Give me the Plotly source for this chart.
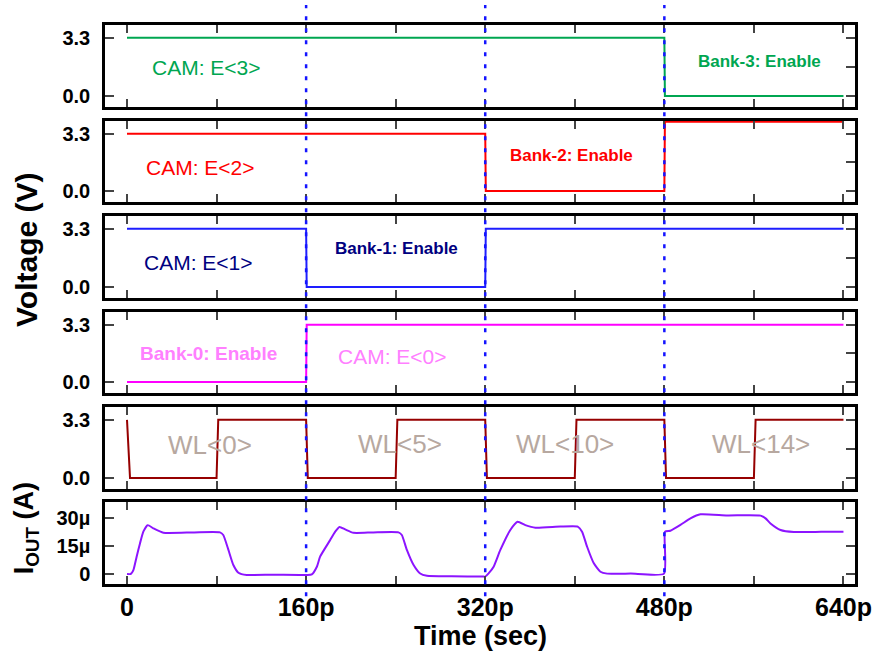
import plotly.graph_objects as go

# ---------------- data (time in ps) ----------------
t_e3 = [0, 480, 480.5, 640]
v_e3 = [3.3, 3.3, 0.0, 0.0]

t_e2 = [0, 320, 320.5, 480, 480.5, 640]
v_e2 = [3.3, 3.3, 0.0, 0.0, 3.98, 3.98]

t_e1 = [0, 160, 160.5, 320, 320.5, 640]
v_e1 = [3.3, 3.3, 0.0, 0.0, 3.3, 3.3]

t_e0 = [0, 160, 160.5, 640]
v_e0 = [0.0, 0.0, 3.3, 3.3]

t_wl = [0, 2.7, 80, 81.5, 160, 161.5, 240, 241.5, 320, 321.5, 400, 401.5, 480, 481.5, 560, 561.5, 640]
v_wl = [3.3, 0.0, 0.0, 3.3, 3.3, 0.0, 0.0, 3.3, 3.3, 0.0, 0.0, 3.3, 3.3, 0.0, 0.0, 3.3, 3.3]

t_iout = [0, 3.3, 5.7, 8.6, 11.6, 14.6, 18.5, 23.5, 32.5, 60, 83, 86, 90.6, 95, 99.5, 107, 130, 160.6,
          165.1, 169.6, 172.5, 181.5, 186, 189.8, 194.9, 202.3, 220, 242.5, 245.5, 250, 256, 261.9, 267.9, 290, 318.5,
          320, 323, 327.5, 333.5, 342.4, 348.9, 355.8, 364.8, 387.1, 402.6, 406.5, 411, 417, 422.9, 428.9, 450, 479.7,
          480.6, 485.4, 494.4, 503.3, 512.3, 536.1, 565.9, 570.4, 574.8, 583.8, 595.7, 620, 640]
i_iout = [0.0, 0.0, 2.1, 9.3, 16.4, 22.7, 26.2, 24.5, 22.1, 22.3, 22.3, 20.9, 12.9, 4.8, 0.7, -0.5, -0.4, -0.5,
          -0.2, 3.9, 9.3, 18.2, 22.7, 25.2, 23.9, 22.1, 22.3, 22.3, 20.9, 12.9, 4.8, 0.3, -0.9, -1.2, -1.4,
          -1.4, 0.3, 3.9, 12.9, 23.6, 28.0, 26.2, 24.8, 25.4, 25.4, 22.7, 14.6, 5.7, 1.2, 0.2, 0.2, 0.2,
          22.7, 23.2, 26.3, 29.8, 32.0, 31.4, 31.3, 29.8, 27.1, 23.6, 22.5, 22.6, 22.7]

x_tick_vals = [0, 80, 160, 240, 320, 400, 480, 560, 640]
x_tick_text = ["0", " ", "160p", " ", "320p", " ", "480p", " ", "640p"]
v_tick_vals = [0.0, 3.3]
v_tick_text = ["0.0", "3.3"]
v_right_ticks = [0.0, 1.65, 3.3]
i_tick_vals = [0, 15, 30]
i_tick_text = ["0", "15µ", "30µ"]
bank_edges = [160, 320, 480]

# ---------------- styling ----------------
FONT = "Liberation Sans"
X_RANGE = [-19.65, 650.3]
V_RANGE = [-0.63, 4.03]
I_RANGE = [-5.36, 38.6]
domains = [[0.8533, 1.0], [0.6834, 0.8283], [0.5116, 0.6583],
           [0.3417, 0.4866], [0.1699, 0.3166], [0.0, 0.1467]]

GREEN = "#00A651"
RED = "#FF0000"
BLUE = "#1E1EFF"
NAVY = "#000080"
MAGENTA = "#FF00FF"
PINK = "#FF80FF"
DARKRED = "#960000"
PURPLE = "#8C14FF"
WLGRAY = "rgb(183,168,160)"

fig = go.Figure()

series = [(t_e3, v_e3, GREEN), (t_e2, v_e2, RED), (t_e1, v_e1, BLUE),
          (t_e0, v_e0, MAGENTA), (t_wl, v_wl, DARKRED)]
for k, (tt, vv, col) in enumerate(series, start=1):
    fig.add_trace(go.Scatter(x=tt, y=vv, mode="lines", line=dict(color=col, width=2),
                             xaxis=f"x{k}" if k > 1 else "x", yaxis=f"y{k}" if k > 1 else "y",
                             showlegend=False, hoverinfo="skip"))
fig.add_trace(go.Scatter(x=t_iout, y=i_iout, mode="lines",
                         line=dict(color=PURPLE, width=2, shape="spline", smoothing=0.5),
                         xaxis="x6", yaxis="y6", showlegend=False, hoverinfo="skip"))
# empty traces for right-side tick axes
for k in range(1, 7):
    fig.add_trace(go.Scatter(x=[], y=[], xaxis=f"x{k}" if k > 1 else "x", yaxis=f"y{k+6}",
                             showlegend=False, hoverinfo="skip"))

layout = dict(
    width=876, height=654,
    margin=dict(l=105, r=21, t=25, b=70, autoexpand=False),
    paper_bgcolor="white", plot_bgcolor="white",
    font=dict(family=FONT, color="black"),
)

for k in range(1, 7):
    xa = "xaxis" if k == 1 else f"xaxis{k}"
    ya = "yaxis" if k == 1 else f"yaxis{k}"
    yname = "y" if k == 1 else f"y{k}"
    xname = "x" if k == 1 else f"x{k}"
    layout[xa] = dict(domain=[0, 1], anchor=yname, range=X_RANGE, tickvals=x_tick_vals,
                      ticktext=x_tick_text, ticks="inside", ticklen=8, tickwidth=2,
                      showline=True, linewidth=2.5, linecolor="black", mirror="ticks",
                      showgrid=False, zeroline=False, showticklabels=(k == 6),
                      tickfont=dict(family=FONT, size=25, weight="bold"),
                      ticklabelstandoff=-1, automargin=False)
    if k == 6:
        rng, tv, tt, rt = I_RANGE, i_tick_vals, i_tick_text, i_tick_vals
    else:
        rng, tv, tt, rt = V_RANGE, v_tick_vals, v_tick_text, v_right_ticks
    layout[ya] = dict(domain=domains[k - 1], anchor=xname, range=rng, tickvals=tv, ticktext=tt,
                      ticks="inside", ticklen=9, tickwidth=2, showline=True, linewidth=2.5,
                      linecolor="black", mirror=True, showgrid=False, zeroline=False,
                      tickfont=dict(family=FONT, size=20, weight="bold"), ticklabelstandoff=8,
                      automargin=False)
    layout[f"yaxis{k+6}"] = dict(overlaying=yname, anchor=xname, side="right", range=rng,
                                 tickvals=rt, showticklabels=False, ticks="inside", ticklen=9,
                                 tickwidth=2, showline=False, showgrid=False, zeroline=False,
                                 automargin=False)

fig.update_layout(**layout)

# vertical dotted bank boundaries
for e in bank_edges:
    fig.add_shape(type="line", xref="x6", yref="paper", x0=e, x1=e, y0=-0.022, y1=1.036,
                  line=dict(color="#1414FF", width=2.5, dash="4px,8px"), layer="above")

# in-panel labels
def ann(text, x, y, k, color, size, bold=False):
    fig.add_annotation(text=text, x=x, y=y, xref="x" if k == 1 else f"x{k}",
                       yref="y" if k == 1 else f"y{k}", showarrow=False,
                       font=dict(family=FONT, size=size, color=color,
                                 weight="bold" if bold else "normal"))

ann("CAM: E&lt;3&gt;", 70.6, 1.59, 1, GREEN, 21)
ann("Bank-3: Enable", 565, 1.93, 1, GREEN, 17, True)
ann("CAM: E&lt;2&gt;", 66, 1.38, 2, RED, 21)
ann("Bank-2: Enable", 397, 2.05, 2, RED, 17, True)
ann("CAM: E&lt;1&gt;", 63.6, 1.38, 3, NAVY, 21)
ann("Bank-1: Enable", 241, 2.18, 3, NAVY, 17, True)
ann("Bank-0: Enable", 72.4, 1.63, 4, PINK, 19, True)
ann("CAM: E&lt;0&gt;", 237.5, 1.48, 4, PINK, 21)
ann("WL&lt;0&gt;", 74, 1.88, 5, WLGRAY, 26)
ann("WL&lt;5&gt;", 243.6, 1.95, 5, WLGRAY, 26)
ann("WL&lt;10&gt;", 391, 1.95, 5, WLGRAY, 26)
ann("WL&lt;14&gt;", 566, 1.92, 5, WLGRAY, 26)

# axis titles
fig.add_annotation(text="Voltage (V)", xref="paper", yref="paper", x=-0.105, y=0.598,
                   xanchor="center", yanchor="middle", textangle=-90, showarrow=False,
                   font=dict(family=FONT, size=30, weight="bold", color="black"))
fig.add_annotation(text="I<sub>OUT</sub> (A)", xref="paper", yref="paper", x=-0.105, y=0.1,
                   xanchor="center", yanchor="middle", textangle=-90, showarrow=False,
                   font=dict(family=FONT, size=27, weight="bold", color="black"))
fig.add_annotation(text="Time (sec)", xref="paper", yref="paper", x=0.5, y=-0.0925,
                   xanchor="center", yanchor="middle", showarrow=False,
                   font=dict(family=FONT, size=27, weight="bold", color="black"))

fig.write_html("out.html")
